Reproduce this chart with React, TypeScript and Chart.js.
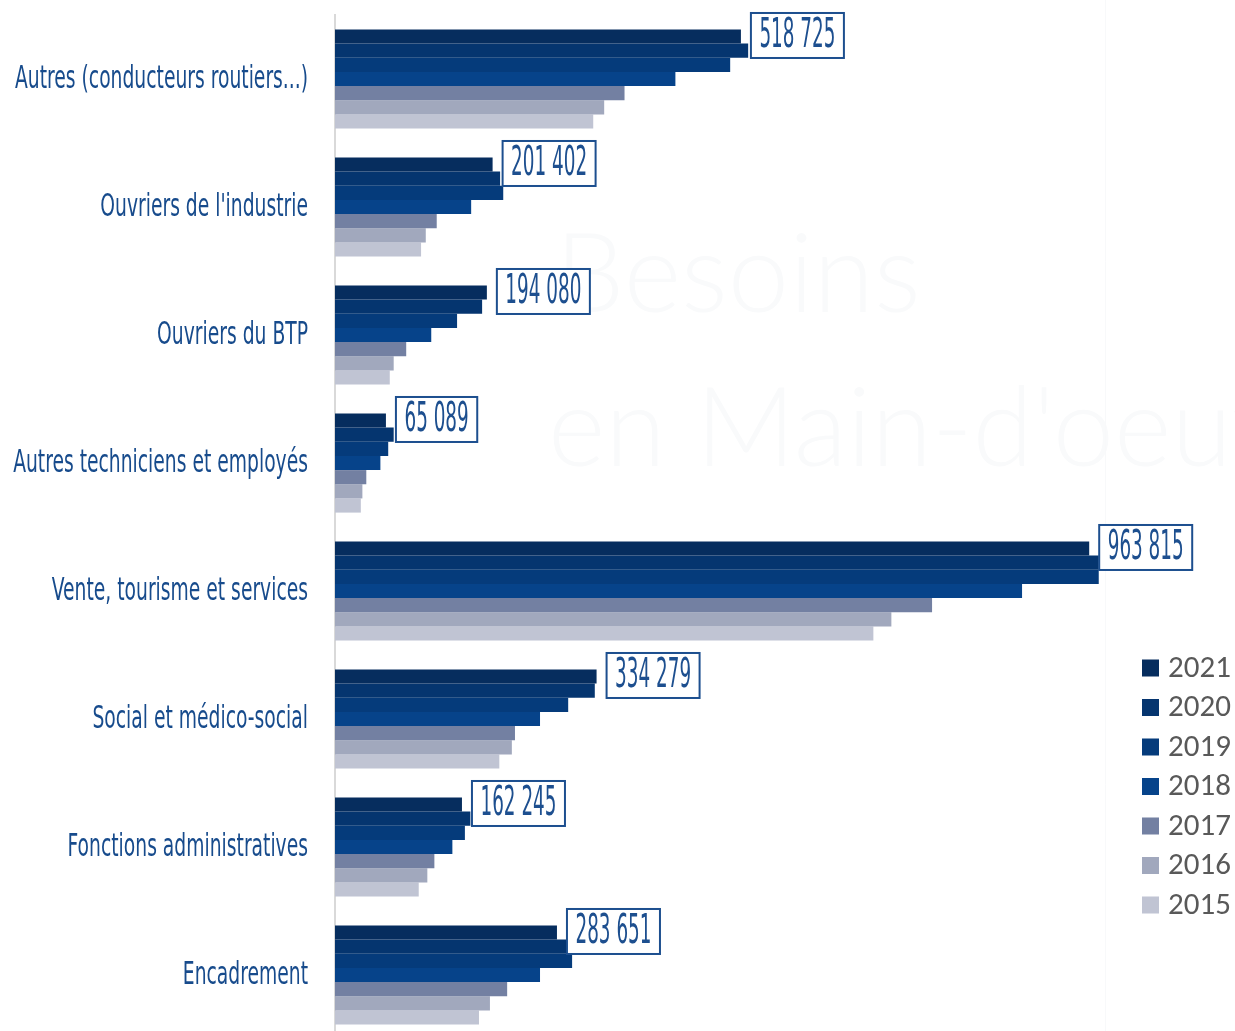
import React, { useEffect, useRef } from "react";
import { Chart, registerables } from "chart.js";

Chart.register(...registerables);

const categories = [
  "Autres (conducteurs routiers...)",
  "Ouvriers de l'industrie",
  "Ouvriers du BTP",
  "Autres techniciens et employés",
  "Vente, tourisme et services",
  "Social et médico-social",
  "Fonctions administratives",
  "Encadrement",
];

const years = ["2021", "2020", "2019", "2018", "2017", "2016", "2015"];

const v2021 = [518725, 201402, 194080, 65089, 963815, 334279, 162245, 283651];
const v2020 = [528000, 211000, 188000, 75000, 976000, 332000, 173000, 297000];
const v2019 = [505000, 215000, 156000, 68000, 976000, 298000, 166000, 303000];
const v2018 = [435000, 174000, 123000, 58000, 878000, 262000, 150000, 262000];
const v2017 = [370000, 130000, 91000, 40000, 763000, 230000, 127000, 220000];
const v2016 = [344000, 116000, 75000, 35000, 711000, 226000, 118000, 198000];
const v2015 = [330000, 110000, 70000, 33000, 688000, 210000, 107000, 184000];

const seriesValues = [v2021, v2020, v2019, v2018, v2017, v2016, v2015];
const colors = ["#062d5e", "#05356f", "#053b7b", "#06438a", "#7380a2", "#a1a8bd", "#c0c4d3"];

const xMax = 984000;

const fmt = (n: number) => String(n).replace(/\B(?=(\d{3})+(?!\d))/g, " ");

const labelFont = '"Liberation Sans Narrow", "DejaVu Sans Condensed", sans-serif';

export default function App() {
  const ref = useRef<HTMLCanvasElement | null>(null);

  useEffect(() => {
    if (!ref.current) return;

    const watermark = {
      id: "watermark",
      beforeDraw(chart: any) {
        const ctx = chart.ctx;
        ctx.save();
        ctx.fillStyle = "#ffffff";
        ctx.fillRect(0, 0, chart.width, chart.height);
        ctx.fillStyle = "#f9fafb";
        ctx.font = '300 110px Lato, "Open Sans", sans-serif';
        ctx.textBaseline = "alphabetic";
        ctx.textAlign = "left";
        ctx.fillText("Besoins", 555, 312);
        ctx.fillText("en Main-d'oeuvre", 548, 466);
        ctx.strokeStyle = "#f8f9fa";
        ctx.lineWidth = 1;
        ctx.beginPath();
        ctx.moveTo(1105.5, 0);
        ctx.lineTo(1105.5, chart.height);
        ctx.stroke();
        ctx.restore();
      },
    };

    const custom = {
      id: "custom",
      afterDraw(chart: any) {
        const ctx = chart.ctx;
        const yScale = chart.scales.y;
        ctx.save();
        // category labels
        ctx.font = `32px ${labelFont}`;
        const ref0 = ctx.measureText(categories[0]).width;
        const sx = 293 / ref0;
        ctx.fillStyle = "#174b8c";
        ctx.textAlign = "right";
        ctx.textBaseline = "middle";
        categories.forEach((c, i) => {
          const y = yScale.getPixelForTick(i);
          ctx.save();
          ctx.translate(308, y);
          ctx.scale(sx, 1);
          ctx.fillText(c, 0, 1);
          ctx.restore();
        });
        ctx.restore();

        // data labels on 2021 bars
        ctx.save();
        ctx.font = `40px ${labelFont}`;
        const refW = ctx.measureText("518 725").width;
        const dsx = 76 / refW;
        const meta = chart.getDatasetMeta(0);
        meta.data.forEach((bar: any, i: number) => {
          const txt = fmt(v2021[i]);
          const tw = ctx.measureText(txt).width * dsx;
          const bx = bar.x + 10;
          const bw = tw + 17;
          const bh = 45;
          const by = bar.y - 1 - bh / 2;
          ctx.fillStyle = "#ffffff";
          ctx.fillRect(bx, by, bw, bh);
          ctx.strokeStyle = "#1d4f8f";
          ctx.lineWidth = 2;
          ctx.strokeRect(bx, by, bw, bh);
          ctx.fillStyle = "#1d4f8f";
          ctx.textAlign = "left";
          ctx.textBaseline = "middle";
          ctx.save();
          ctx.translate(bx + 8.5, by + bh / 2 + 1);
          ctx.scale(dsx, 1);
          ctx.fillText(txt, 0, 0);
          ctx.restore();
        });
        ctx.restore();

        // legend
        ctx.save();
        ctx.font = '31px Carlito, Lato, "Open Sans", sans-serif';
        ctx.textAlign = "left";
        ctx.textBaseline = "middle";
        years.forEach((yr, i) => {
          const yc = 668 + i * 39.5;
          ctx.fillStyle = colors[i];
          ctx.fillRect(1142, yc - 8.5, 17, 17);
          ctx.fillStyle = "#595959";
          ctx.fillText(yr, 1168, yc + 1);
        });
        ctx.restore();
      },
    };

    const chart = new Chart(ref.current, {
      type: "bar",
      data: {
        labels: categories,
        datasets: years.map((yr, i) => ({
          label: yr,
          data: seriesValues[i],
          backgroundColor: colors[i],
          borderWidth: 0,
          barPercentage: 1,
          categoryPercentage: 0.775,
        })),
      },
      options: {
        indexAxis: "y",
        responsive: false,
        animation: false,
        devicePixelRatio: 1,
        layout: { padding: { left: 0, right: 130, top: 15, bottom: 7 } },
        plugins: {
          legend: { display: false },
          tooltip: { enabled: false },
          title: { display: false },
        },
        scales: {
          x: {
            display: false,
            min: 0,
            max: xMax,
          },
          y: {
            grid: { display: false },
            border: { display: true, color: "#d9d9d9", width: 2 },
            ticks: { display: false },
            afterFit: (s: any) => {
              s.width = 335;
            },
          },
        },
      },
      plugins: [watermark, custom],
    });

    return () => chart.destroy();
  }, []);

  return (
    <div
      style={{
        position: "absolute",
        left: 0,
        top: 0,
        width: 1235,
        height: 1031,
        overflow: "hidden",
        background: "#ffffff",
      }}
    >
      <canvas ref={ref} width={1235} height={1046} style={{ display: "block" }} />
    </div>
  );
}
